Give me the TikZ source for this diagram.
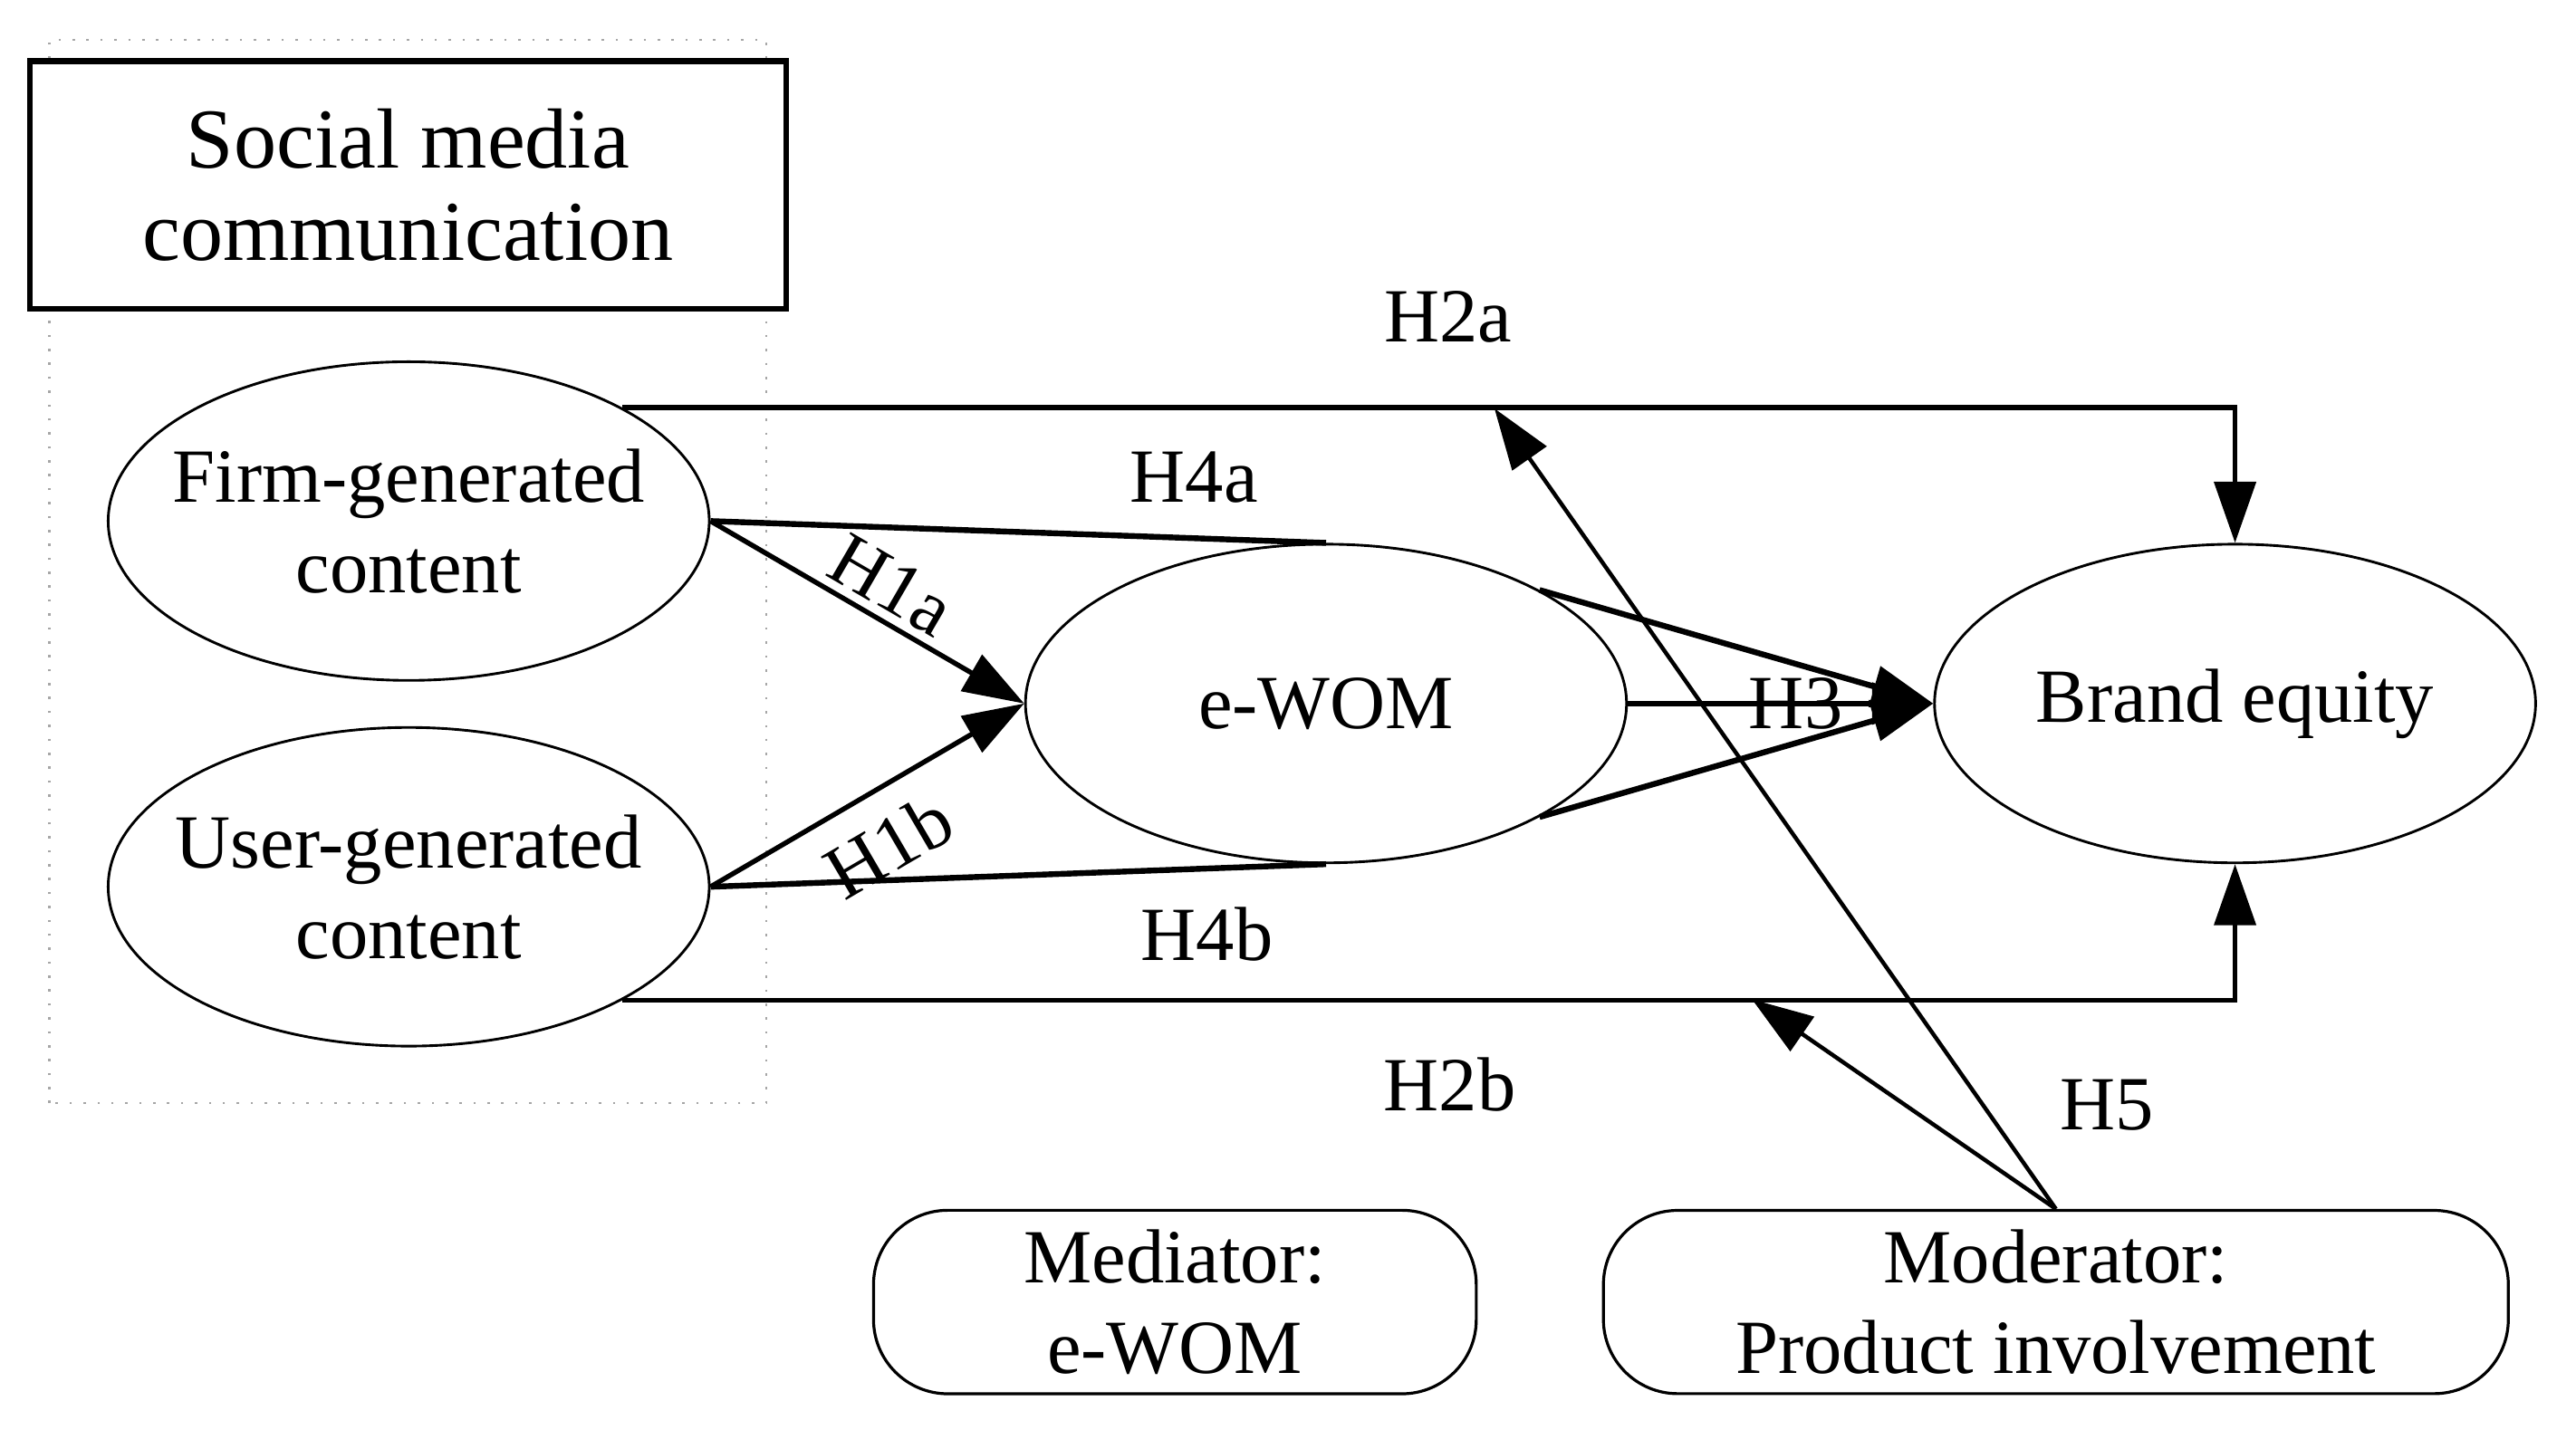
\documentclass[tikz,border=0pt]{standalone}
\usepackage{fontspec}
\setmainfont{Liberation Serif}
\usepackage{tikz}
\usetikzlibrary{shapes.geometric, arrows.meta}

\begin{document}
\begin{tikzpicture}[font=\fontsize{13.2}{15.6}\selectfont,
        construct/.style={draw, ellipse, line width=0.45pt, minimum width=3.64cm, minimum height=1.93cm, inner xsep=-0.4cm, inner ysep=0pt, align=center},
        tag/.style={draw, rounded corners=0.45cm, line width=0.5pt, minimum height=1.11cm, align=center},
        link/.style={line width=0.85pt, -{Triangle[length=0.37cm, width=0.25cm]}},
        mediate/.style={line width=1pt},
        moderate/.style={line width=0.7pt, -{Triangle[length=0.37cm, width=0.25cm]}}]
        \useasboundingbox (0,0) rectangle (15.6,8.661);
        \draw[gray!70, dotted, line width=0.4pt] (0.30,1.98) rectangle (4.64,8.42);

        \node[draw, fill=white, line width=1pt, minimum width=4.58cm, minimum height=1.5cm, align=center, font=\fontsize{14.7}{16}\selectfont] (smc) at (2.47,7.54) {Social media\\communication};
        \node[construct] (fgc) at (2.475,5.505) {Firm-generated\\content};
        \node[construct] (ugc) at (2.475,3.29) {User-generated\\content};
        \node[construct] (ewom) at (8.03,4.40) {e-WOM};
        \node[construct] (brand) at (13.535,4.40) {Brand equity};
        \node[tag, minimum width=3.65cm] (med) at (7.115,0.775) {Mediator:\\e-WOM};
        \node[tag, minimum width=5.48cm] (mod) at (12.45,0.775) {Moderator:\\Product involvement};

        \draw[link] (fgc.28) -| (brand.north);
        \draw[link] (ugc.-28) -| (brand.south);
        \draw[link] (fgc.east) -- (ewom.west) node[pos=0.52, sloped, above=-2pt] {H1a};
        \draw[link] (ugc.east) -- (ewom.west) node[pos=0.48, sloped, below=1pt] {H1b};
        \draw[mediate] (fgc.east) -- (ewom.north);
        \draw[mediate] (ugc.east) -- (ewom.south);
        \draw[link, mediate] (ewom.28) -- (brand.west);
        \draw[link, mediate] (ewom.-28) -- (brand.west);
        \draw[link] (ewom.east) -- (brand.west) node[pos=0.55] {H3};

        \coordinate (h2a) at (9.05,6.187);
        \coordinate (h2b) at (10.61,2.608);
        \draw[moderate] (mod.north) -- (h2a);
        \draw[moderate] (mod.north) -- (h2b);

        \node (lh2a) at (8.77,6.74) {H2a};
        \node (lh2b) at (8.78,2.09) {H2b};
        \node (lh4a) at (7.23,5.77) {H4a};
        \node (lh4b) at (7.31,3.00) {H4b};
        \node (lh5) at (12.76,1.97) {H5};
    \end{tikzpicture}
\end{document}
